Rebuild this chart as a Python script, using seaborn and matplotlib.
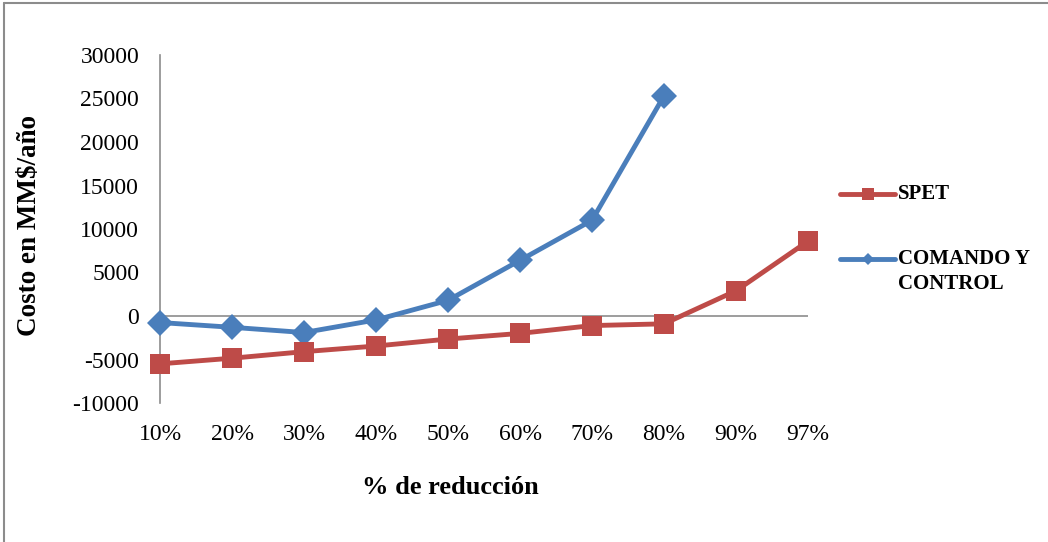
import numpy as np
import pandas as pd
import matplotlib
matplotlib.use("Agg")
import matplotlib.pyplot as plt
from matplotlib.lines import Line2D
import seaborn as sns

# Reduction levels and annual cost (MM$/año) for each instrument
categories = ["10%", "20%", "30%", "40%", "50%", "60%", "70%", "80%", "90%", "97%"]
spet = [-5500, -4850, -4100, -3450, -2650, -2000, -1100, -900, 2900, 8600]
comando_control = [-750, -1300, -1900, -450, 1800, 6400, 11000, 25300, np.nan, np.nan]

BLUE = "#4A7EBB"
RED = "#BE4B48"
SERIF = ["Liberation Serif", "DejaVu Serif"]

sns.set_theme(style="white")
plt.rcParams["font.family"] = SERIF
plt.rcParams["text.color"] = "black"

pos = np.arange(len(categories))
df = pd.DataFrame({"pos": pos, "SPET": spet, "COMANDO Y CONTROL": comando_control})

W, H = 1048, 542
fig = plt.figure(figsize=(W / 100, H / 100), dpi=100)
fig.patch.set_facecolor("white")
ax = fig.add_axes([160 / W, 1 - 403 / H, 648 / W, 348 / H])

# Zero reference line (horizontal axis crossing)
ax.axhline(0, color="#8c8c8c", lw=1.2, zorder=1)

sns.lineplot(data=df, x="pos", y="COMANDO Y CONTROL", ax=ax, color=BLUE, lw=3.5,
             marker="D", markersize=13.5, markeredgewidth=0, clip_on=False, zorder=3)
sns.lineplot(data=df, x="pos", y="SPET", ax=ax, color=RED, lw=3.5,
             marker="s", markersize=14, markeredgewidth=0, clip_on=False, zorder=4)

ax.set_xlim(0, len(categories) - 1)
ax.set_ylim(-10000, 30000)
ax.set_yticks(np.arange(-10000, 30001, 5000))
ax.set_yticklabels([str(v) for v in range(-10000, 30001, 5000)])
ax.set_xticks(pos)
ax.set_xticklabels(categories)
ax.tick_params(axis="both", length=0, labelsize=17, colors="black")
ax.tick_params(axis="y", pad=15)
ax.tick_params(axis="x", pad=15)
ax.set_xlabel("")
ax.set_ylabel("")

for side in ["top", "right", "bottom"]:
    ax.spines[side].set_visible(False)
ax.spines["left"].set_color("#8c8c8c")
ax.spines["left"].set_linewidth(1.2)
ax.set_facecolor("white")

fig.text(450 / W, 1 - 488 / H, "% de reducción", ha="center", va="center",
         fontsize=19, fontweight="bold", family=SERIF, color="black")
fig.text(30 / W, 1 - 225 / H, "Costo en MM$/año", ha="center", va="center",
         rotation=90, fontsize=19.5, fontweight="bold", family=SERIF, color="black")

# Legend: handle sits on the first line of each entry's label
legend_items = [
    ("SPET", RED, "s", 9, 194),
    ("COMANDO Y\nCONTROL", BLUE, "D", 6, 259),
]
for label, color, marker, msize, ypix in legend_items:
    y = 1 - ypix / H
    fig.add_artist(Line2D([840 / W, 895 / W], [y, y], color=color, lw=3.5,
                          solid_capstyle="round", transform=fig.transFigure))
    fig.add_artist(Line2D([867.5 / W], [y], color=color, marker=marker, markersize=msize,
                          markeredgewidth=0, transform=fig.transFigure))
    first, *rest = label.split("\n")
    fig.text(898 / W, y, first, ha="left", va="center", fontsize=15,
             fontweight="bold", family=SERIF, color="black")
    for i, line in enumerate(rest, start=1):
        fig.text(898 / W, 1 - (ypix + 25 * i) / H, line, ha="left", va="center",
                 fontsize=15, fontweight="bold", family=SERIF, color="black")

# Outer chart border (top and left edges)
fig.add_artist(Line2D([4 / W, 1], [1 - 3 / H, 1 - 3 / H], color="#8c8c8c", lw=1.5,
                      transform=fig.transFigure))
fig.add_artist(Line2D([4 / W, 4 / W], [0, 1 - 3 / H], color="#8c8c8c", lw=1.5,
                      transform=fig.transFigure))

fig.savefig("out.png", dpi=100)
